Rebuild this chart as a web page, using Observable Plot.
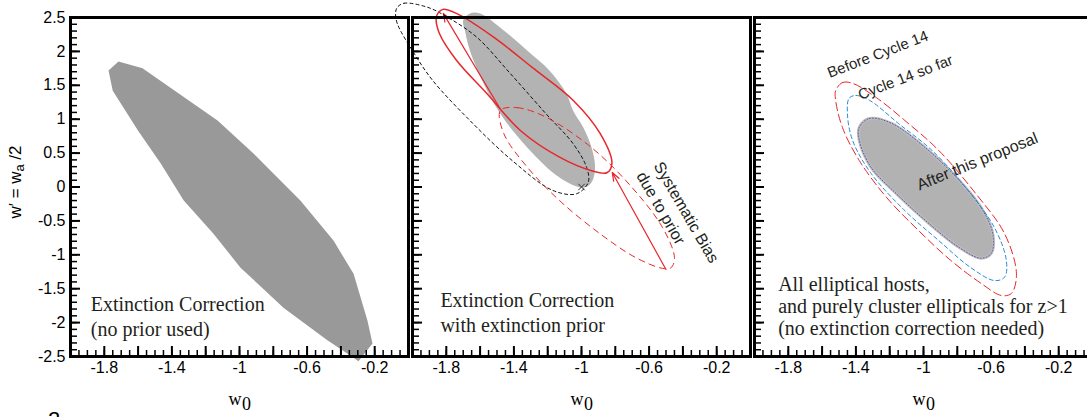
<!DOCTYPE html>
<html>
<head>
<meta charset="utf-8">
<script src="https://cdn.jsdelivr.net/npm/d3@7"></script>
<script src="https://cdn.jsdelivr.net/npm/@observablehq/plot@0.6"></script>
<style>
  html, body { margin: 0; padding: 0; background: #fff; overflow: hidden; width: 1087px; height: 417px; }
  #wrap { position: relative; width: 1095px; height: 417px; }
  #fignum { position: absolute; left: 48px; top: 409px; font: 22px/1 "Liberation Sans", Arial, sans-serif; color: #000; }
</style>
</head>
<body>
<div id="wrap"><div id="fignum">2</div></div>
<script>
// ---------- data ----------
const panels = ["A", "B", "C"];
const xTickLabels = [-1.8, -1.4, -1, -0.6, -0.2];
const yTickLabels = [-2.5, -2, -1.5, -1, -0.5, 0, 0.5, 1, 1.5, 2, 2.5];
const xMajorTicks = [-2, -1.8, -1.6, -1.4, -1.2, -1, -0.8, -0.6, -0.4, -0.2, 0];
const xMinorTicks = d3.range(-2, 0.001, 0.05);
const yMinorTicks = d3.range(-2.5, 2.501, 0.1);

// Panel A: extinction correction, no prior
const noPriorFill = [[-1.775,1.72],[-1.716,1.85],[-1.574,1.75],[-1.13,0.98],[-0.917,0.494],[-0.64,-0.2],[-0.444,-0.79],[-0.325,-1.28],[-0.243,-1.97],[-0.213,-2.31],[-0.296,-2.57],[-0.36,-2.46],[-0.48,-2.26],[-0.74,-1.78],[-0.994,-1.19],[-1.154,-0.69],[-1.33,-0.2],[-1.467,0.35],[-1.60,0.83],[-1.75,1.42]];

// Panel B: with extinction prior
const priorFill = [[-1.70,2.46],[-1.66,2.56],[-1.60,2.56],[-1.48,2.35],[-1.32,2.01],[-1.19,1.72],[-1.09,1.38],[-1.05,1.13],[-0.99,0.88],[-0.94,0.58],[-0.92,0.29],[-0.94,0.07],[-0.99,-0.01],[-1.13,0.14],[-1.32,0.58],[-1.48,1.08],[-1.58,1.53],[-1.66,2.01],[-1.69,2.31]];
const noPriorDashed = [[-2.09,2.65],[-2.05,2.71],[-1.91,2.65],[-1.79,2.50],[-1.62,2.21],[-1.42,1.67],[-1.21,1.08],[-1.05,0.64],[-0.97,0.29],[-0.96,0.07],[-1.03,-0.10],[-1.17,-0.05],[-1.41,0.39],[-1.66,0.98],[-1.88,1.57],[-1.99,1.97],[-2.09,2.41],[-2.10,2.57]];
const priorSolid = [[-1.85,2.56],[-1.82,2.62],[-1.74,2.56],[-1.52,2.21],[-1.29,1.76],[-1.05,1.28],[-0.89,0.79],[-0.82,0.35],[-0.85,0.21],[-0.94,0.24],[-1.13,0.44],[-1.36,0.83],[-1.56,1.38],[-1.74,1.87],[-1.84,2.26],[-1.86,2.49]];
const biasedDashed = [[-1.48,1.13],[-1.38,1.17],[-1.21,1.03],[-0.94,0.58],[-0.70,-0.01],[-0.52,-0.60],[-0.45,-1.04],[-0.47,-1.19],[-0.52,-1.20],[-0.68,-1.04],[-0.89,-0.69],[-1.13,-0.20],[-1.32,0.29],[-1.46,0.79]];
const biasArrows = [
  {fx: "B", x1: -1.482, y1: 1.157, x2: -1.818, y2: 2.56},
  {fx: "B", x1: -0.50, y1: -1.217, x2: -0.818, y2: 0.214}
];
const fiducial = [{fx: "B", x: -1, y: 0}];

// Panel C: elliptical hosts
const beforeCycle14 = [[-1.52,1.42],[-1.48,1.54],[-1.42,1.53],[-1.28,1.32],[-1.11,0.98],[-0.91,0.54],[-0.69,-0.10],[-0.52,-0.69],[-0.45,-1.28],[-0.48,-1.57],[-0.54,-1.60],[-0.66,-1.42],[-0.84,-1.08],[-1.03,-0.64],[-1.22,-0.15],[-1.38,0.39],[-1.48,0.88],[-1.52,1.28]];
const cycle14SoFar = [[-1.44,1.31],[-1.40,1.35],[-1.32,1.28],[-1.15,0.94],[-0.95,0.54],[-0.75,-0.01],[-0.58,-0.60],[-0.51,-1.08],[-0.52,-1.33],[-0.58,-1.38],[-0.72,-1.19],[-0.91,-0.79],[-1.11,-0.35],[-1.31,0.20],[-1.42,0.69],[-1.45,1.08]];
const afterProposal = [[-1.38,0.88],[-1.32,1.01],[-1.19,0.94],[-0.99,0.58],[-0.79,0.10],[-0.66,-0.30],[-0.59,-0.69],[-0.60,-0.98],[-0.66,-1.05],[-0.79,-0.89],[-0.99,-0.49],[-1.16,-0.10],[-1.31,0.29],[-1.38,0.69]];

// annotations
const notesAB = [
  {fx: "A", x: -1.88, y: -1.89, text: "Extinction Correction\n(no prior used)"},
  {fx: "B", x: -1.835, y: -1.83, text: "Extinction Correction\nwith extinction prior"}
];
const notesC = [
  {fx: "C", x: -1.86, y: -1.76, text: "All elliptical hosts,\nand purely cluster ellipticals for z>1\n(no extinction correction needed)"}
];
const biasNote = [{fx: "B", x: -0.594, y: 0.288, text: "Systematic Bias\ndue to prior"}];
const cycleNotes = [
  {fx: "C", x: -1.27, y: 1.955, text: "Before Cycle 14"},
  {fx: "C", x: -1.106, y: 1.615, text: "Cycle 14 so far"}
];
const afterNote = [{fx: "C", x: -0.682, y: 0.376, text: "After this proposal"}];
const xTitle = "w", xTitleSub = "0";
const yTitle = "w\u2032 = w", yTitleSub = "a", yTitleTail = " /2";

// ---------- build ----------
(function () {
  const rows = (pts, fx) => pts.map(([x, y]) => ({fx, x, y}));
  const serif = "'Liberation Serif', 'Times New Roman', serif";
  const sans = "'Liberation Sans', Arial, sans-serif";
  const red = "#e8262b";
  const shape = (pts, fx, opts) => Plot.line(rows(pts, fx), {x: "x", y: "y", fx: "fx", curve: "catmull-rom-closed", fill: "none", ...opts});
  const plot = Plot.plot({
    width: 1095, height: 417,
    marginLeft: 70, marginRight: 3, marginTop: 17, marginBottom: 61,
    fx: {domain: panels, axis: null, paddingInner: 4 / 342, paddingOuter: 0},
    x: {domain: [-2, 0], label: null},
    y: {domain: [-2.5, 2.5], label: null},
    style: {fontFamily: sans, fontSize: "16px", background: "#fff", overflow: "visible", maxWidth: "none"},
    marks: [
      shape(noPriorFill, "A", {curve: "linear-closed", fill: "#999999", stroke: "none"}),
      shape(priorFill, "B", {fill: "#b3b3b3", stroke: "none"}),
      Plot.arrow(biasArrows, {x1: "x1", y1: "y1", x2: "x2", y2: "y2", fx: "fx", stroke: red, strokeWidth: 1.2, headLength: 11, headAngle: 40}),
      Plot.dot(fiducial, {x: "x", y: "y", fx: "fx", symbol: "times", r: 3, stroke: "#333", strokeWidth: 1}),
      shape(noPriorDashed, "B", {stroke: "#111", strokeWidth: 1, strokeDasharray: "3,3"}),
      shape(biasedDashed, "B", {stroke: red, strokeWidth: 1, strokeDasharray: "6,5"}),
      shape(priorSolid, "B", {stroke: red, strokeWidth: 1.5}),
      shape(afterProposal, "C", {fill: "#b2b2b2", stroke: "#bdbdbd", strokeWidth: 3}),
      shape(afterProposal, "C", {stroke: "#5a5aa8", strokeWidth: 1, strokeDasharray: "1,2"}),
      shape(beforeCycle14, "C", {stroke: red, strokeWidth: 1, strokeDasharray: "8,4"}),
      shape(cycle14SoFar, "C", {stroke: "#2a8bd6", strokeWidth: 1, strokeDasharray: "4,3"}),
      Plot.tickX(xMinorTicks, {x: d => d, insetTop: 333, stroke: "#000", strokeWidth: 1.5}),
      Plot.tickX(xMajorTicks, {x: d => d, insetTop: 329, stroke: "#000", strokeWidth: 2}),
      Plot.tickY(yMinorTicks, {y: d => d, insetRight: 331, stroke: "#000", strokeWidth: 1.5}),
      Plot.tickY(yTickLabels, {y: d => d, insetRight: 328, stroke: "#000", strokeWidth: 2}),
      Plot.frame({stroke: "#000", strokeWidth: 3}),
      Plot.axisX(xTickLabels, {tickSize: 0, tickPadding: 5, tickFormat: d => String(d), fontSize: 16, label: null}),
      Plot.axisY(yTickLabels, {tickSize: 0, tickPadding: 5, tickFormat: d => String(d), fontSize: 16, label: null}),
      Plot.text(notesAB, {x: "x", y: "y", fx: "fx", text: "text", textAnchor: "start", lineAnchor: "middle", lineHeight: 1.25, fontFamily: serif, fontSize: 20, fill: "#231f20"}),
      Plot.text(notesC, {x: "x", y: "y", fx: "fx", text: "text", textAnchor: "start", lineAnchor: "middle", lineHeight: 1.1, fontFamily: serif, fontSize: 20, fill: "#231f20"}),
      Plot.text(biasNote, {x: "x", y: "y", fx: "fx", text: "text", textAnchor: "start", lineAnchor: "middle", lineHeight: 1.25, rotate: 60, fontSize: 16, fill: "#231f20"}),
      Plot.text(cycleNotes, {x: "x", y: "y", fx: "fx", text: "text", textAnchor: "middle", lineAnchor: "middle", rotate: -21, fontSize: 15, fill: "#231f20"}),
      Plot.text(afterNote, {x: "x", y: "y", fx: "fx", text: "text", textAnchor: "middle", lineAnchor: "middle", rotate: -22, fontSize: 16, fill: "#231f20"}),
      // x titles: "w" with subscript "0"
      Plot.text(panels, {fx: d => d, frameAnchor: "bottom", dx: -4.5, dy: 48, text: () => xTitle, fontFamily: serif, fontSize: 18, fill: "#000"}),
      Plot.text(panels, {fx: d => d, frameAnchor: "bottom", dx: 7, dy: 53, text: () => xTitleSub, fontFamily: serif, fontSize: 18, fill: "#000"}),
      // y title: "w′ = w" + subscript "a" + " /2", rotated
      Plot.text([panels[0]], {fx: d => d, frameAnchor: "left", dx: -55, dy: 31.5, rotate: -90, textAnchor: "start", text: () => yTitle, fontSize: 17, fill: "#000"}),
      Plot.text([panels[0]], {fx: d => d, frameAnchor: "left", dx: -51, dy: -15.5, rotate: -90, textAnchor: "start", text: () => yTitleSub, fontSize: 13, fill: "#000"}),
      Plot.text([panels[0]], {fx: d => d, frameAnchor: "left", dx: -55, dy: -22.5, rotate: -90, textAnchor: "start", text: () => yTitleTail, fontSize: 17, fill: "#000"})
    ]
  });
  document.getElementById("wrap").prepend(plot);
})();
</script>
</body>
</html>
